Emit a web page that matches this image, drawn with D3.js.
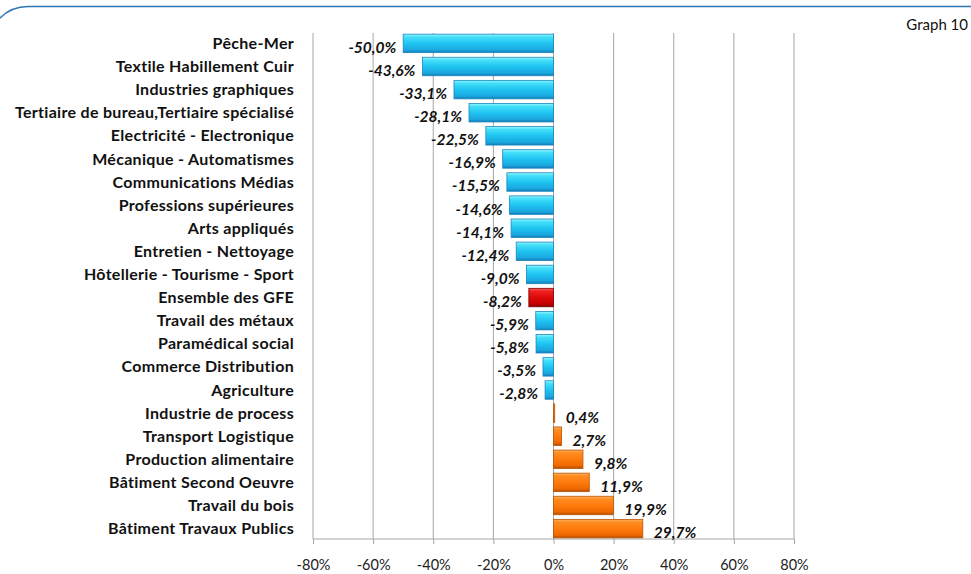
<!DOCTYPE html>
<html>
<head>
<meta charset="utf-8">
<script src="https://cdn.jsdelivr.net/npm/d3@7"></script>
<style>
  body { margin: 0; background: #fff; }
  svg { display: block; }
</style>
</head>
<body>
<div id="chart"></div>
<script>
// data
var categories = [
  "Pêche-Mer", "Textile Habillement  Cuir", "Industries graphiques",
  "Tertiaire de bureau,Tertiaire spécialisé", "Electricité - Electronique",
  "Mécanique - Automatismes", "Communications Médias", "Professions supérieures",
  "Arts appliqués", "Entretien - Nettoyage", "Hôtellerie - Tourisme - Sport",
  "Ensemble des GFE", "Travail des métaux", "Paramédical social",
  "Commerce Distribution", "Agriculture", "Industrie de process",
  "Transport Logistique", "Production alimentaire", "Bâtiment Second Oeuvre",
  "Travail du bois", "Bâtiment Travaux Publics"
];
var values = [-50.0, -43.6, -33.1, -28.1, -22.5, -16.9, -15.5, -14.6, -14.1, -12.4, -9.0,
  -8.2, -5.9, -5.8, -3.5, -2.8, 0.4, 2.7, 9.8, 11.9, 19.9, 29.7];
var totalLabel = "Ensemble des GFE";
var xTicks = [-80, -60, -40, -20, 0, 20, 40, 60, 80];

var width = 971, height = 574;
var margin = {top: 33, right: 177, bottom: 35, left: 313};
var font = "Lato, 'Open Sans', sans-serif";

var svg = d3.select("#chart").append("svg")
    .attr("width", width)
    .attr("height", height);

var defs = svg.append("defs");
function grad(id, stops) {
  var g = defs.append("linearGradient").attr("id", id)
      .attr("x1", 0).attr("y1", 0).attr("x2", 0).attr("y2", 1);
  stops.forEach(s => g.append("stop").attr("offset", s[0]).attr("stop-color", s[1]));
}
grad("gBlue", [[0, "#9af8ff"], [0.15, "#45e0fa"], [0.5, "#1fc4f1"], [0.85, "#1aa7e0"], [1, "#137cb4"]]);
grad("gOrange", [[0, "#ffb466"], [0.15, "#ff8c22"], [0.5, "#ff7b0c"], [0.85, "#ee6800"], [1, "#b04c00"]]);
grad("gRed", [[0, "#ff6060"], [0.15, "#ef2020"], [0.5, "#dd0a0a"], [0.85, "#c40000"], [1, "#820000"]]);

// frame (only top-left part visible)
svg.append("rect")
    .attr("x", -12).attr("y", 6.5)
    .attr("width", 1200).attr("height", 700)
    .attr("rx", 40).attr("ry", 40)
    .attr("fill", "none").attr("stroke", "#2e75b6").attr("stroke-width", 1.5);

svg.append("text")
    .attr("x", 968).attr("y", 30)
    .attr("text-anchor", "end")
    .style("font-family", font)
    .style("font-size", "15px")
    .attr("fill", "#111")
    .text("Graph 10");

var x = d3.scaleLinear()
    .domain([-80, 80])
    .range([margin.left, width - margin.right]);

var y = d3.scaleBand()
    .domain(categories)
    .range([margin.top, height - margin.bottom])
    .paddingInner(0.2)
    .paddingOuter(0.05);

var plotBottom = height - margin.bottom;

// grid
svg.append("g")
  .selectAll("line")
  .data(xTicks)
  .join("line")
    .attr("x1", d => x(d)).attr("x2", d => x(d))
    .attr("y1", margin.top).attr("y2", plotBottom)
    .attr("stroke", "#a6a6a6").attr("stroke-width", 1);

// x axis
var xAxis = svg.append("g")
    .attr("transform", `translate(0,${plotBottom})`)
    .call(d3.axisBottom(x).tickValues(xTicks).tickSize(5).tickPadding(16).tickFormat(d => d + "%"));
xAxis.select(".domain").attr("stroke", "#a6a6a6").attr("d", `M${x(-80)},0H${x(80)}`);
xAxis.selectAll(".tick line").attr("stroke", "#a6a6a6");
xAxis.selectAll(".tick text")
    .style("font-family", font)
    .style("font-size", "14.5px")
    .attr("fill", "#222");

// bars
var rows = categories.map((c, i) => ({name: c, value: values[i]}));

svg.append("g")
  .selectAll("rect")
  .data(rows)
  .join("rect")
    .attr("x", d => x(Math.min(0, d.value)))
    .attr("y", d => y(d.name))
    .attr("width", d => Math.max(1, Math.abs(x(d.value) - x(0))))
    .attr("height", y.bandwidth())
    .attr("fill", d => d.name === totalLabel ? "url(#gRed)" : d.value < 0 ? "url(#gBlue)" : "url(#gOrange)")
    .attr("stroke", d => d.name === totalLabel ? "#7a0000" : d.value < 0 ? "#1a86bf" : "#b95400")
    .attr("stroke-width", 0.8);

// category labels
svg.append("g")
  .selectAll("text")
  .data(rows)
  .join("text")
    .attr("x", 294)
    .attr("y", d => y(d.name) + y.bandwidth() / 2)
    .attr("dy", "0.35em")
    .attr("text-anchor", "end")
    .style("font-family", font)
    .style("font-weight", "bold")
    .style("font-size", "16px")
    .style("letter-spacing", "0.3px")
    .attr("fill", "#111")
    .text(d => d.name);

// value labels
var fmt = v => d3.format(".1f")(v).replace("−", "-").replace(".", ",") + "%";
svg.append("g")
  .selectAll("text")
  .data(rows)
  .join("text")
    .attr("x", d => d.value < 0 ? x(d.value) - 7 : x(d.value) + 11)
    .attr("y", d => y(d.name) + y.bandwidth() / 2 + 4)
    .attr("dy", "0.35em")
    .attr("text-anchor", d => d.value < 0 ? "end" : "start")
    .style("font-family", font)
    .style("font-weight", "bold")
    .style("font-style", "italic")
    .style("font-size", "15.5px")
    .attr("fill", "#111")
    .text(d => fmt(d.value));
</script>
</body>
</html>
